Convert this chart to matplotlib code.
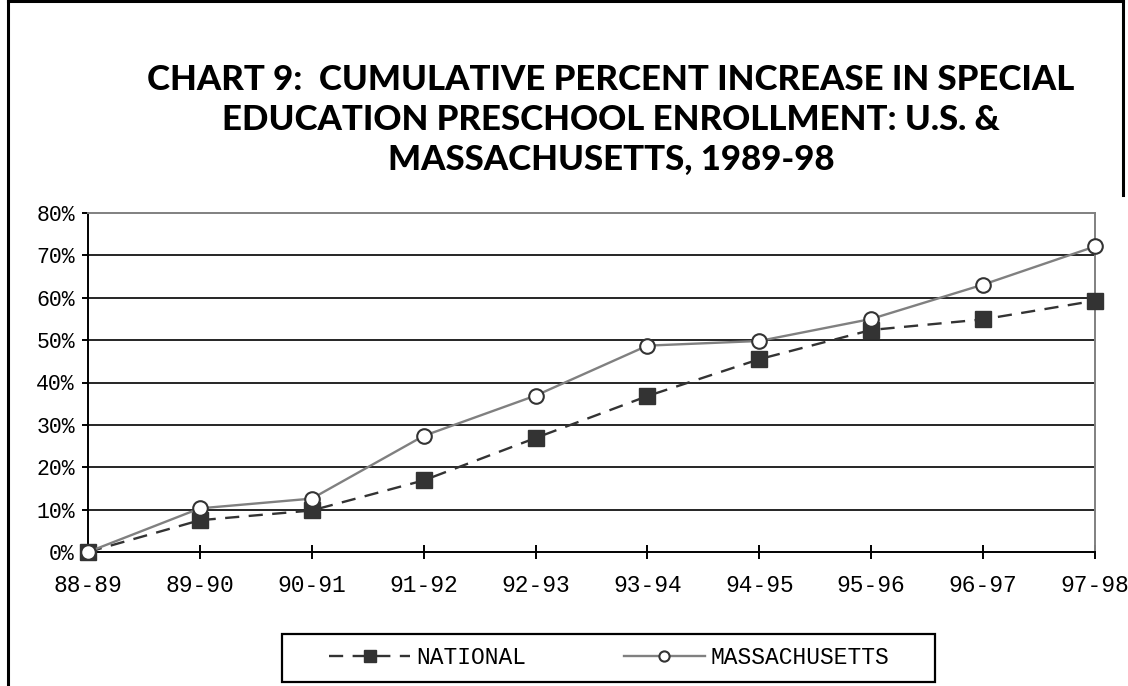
import matplotlib
matplotlib.use("Agg")
import matplotlib.pyplot as plt
from matplotlib.lines import Line2D
from matplotlib.patches import Rectangle

# ---- data -------------------------------------------------------------
years = ['88-89', '89-90', '90-91', '91-92', '92-93',
         '93-94', '94-95', '95-96', '96-97', '97-98']
national = [0.0, 7.5, 9.8, 16.9, 26.9, 36.8, 45.5, 52.4, 54.9, 59.3]
massachusetts = [0.0, 10.3, 12.6, 27.4, 36.9, 48.7, 49.8, 55.0, 63.1, 72.1]
y_ticks = [0, 10, 20, 30, 40, 50, 60, 70, 80]
series_names = ['NATIONAL', 'MASSACHUSETTS']
title = ('CHART 9:  CUMULATIVE PERCENT INCREASE IN SPECIAL\n'
         'EDUCATION PRESCHOOL ENROLLMENT: U.S. &\n'
         'MASSACHUSETTS, 1989-98')

W, H = 1128, 686
mono = 'Liberation Mono'
label_size = 16.5

fig = plt.figure(figsize=(W / 100, H / 100), dpi=100)
fig.patch.set_facecolor('white')

ax = fig.add_axes([88 / W, (H - 552) / H, (1095 - 88) / W, (552 - 213) / H])
ax.set_xlim(0, len(years) - 1)
ax.set_ylim(y_ticks[0], y_ticks[-1])

# horizontal rules between the bottom and top frame lines
for v in y_ticks[1:-1]:
    ax.axhline(v, color='black', lw=1.2, zorder=1)

x = list(range(len(years)))
ax.plot(x, national, color='#333333', lw=1.7, ls=(0, (6, 4)),
        marker='s', ms=11.5, mfc='#333333', mec='#333333',
        clip_on=False, zorder=3, label=series_names[0])
ax.plot(x, massachusetts, color='#808080', lw=1.7, ls='-',
        marker='o', ms=10.5, mfc='white', mec='#333333', mew=1.5,
        clip_on=False, zorder=4, label=series_names[1])

# frame
for side in ('left', 'bottom'):
    ax.spines[side].set_color('black')
    ax.spines[side].set_linewidth(1.4)
for side in ('top', 'right'):
    ax.spines[side].set_color('#808080')
    ax.spines[side].set_linewidth(1.4)

ax.set_xticks(x)
ax.set_xticklabels(years, fontfamily=mono, fontsize=label_size)
ax.set_yticks(y_ticks)
ax.set_yticklabels([f'{v}%' for v in y_ticks], fontfamily=mono,
                   fontsize=label_size - 1)
ax.tick_params(axis='x', direction='inout', length=9.5, width=1.4,
               pad=11, colors='black')
ax.tick_params(axis='y', direction='out', length=4.5, width=1.4,
               pad=5, colors='black')

# title
fig.text(611 / W, 1 - 120 / H, title, ha='center', va='center',
         multialignment='center', fontsize=25, fontweight='black',
         fontfamily=['Lato', 'DejaVu Sans'], linespacing=1.31)

# legend (entries only; the box is drawn separately below)
leg = fig.legend(loc='center', bbox_to_anchor=(609.5 / W, 1 - 658 / H),
                 ncol=2, frameon=False,
                 prop={'family': mono, 'size': label_size},
                 handlelength=3.5, handletextpad=0.27, columnspacing=4.3,
                 numpoints=1, borderpad=0.0, markerscale=0.7)
fig.add_artist(Rectangle((282 / W, 1 - 682 / H), (935 - 282) / W, 48 / H,
                         transform=fig.transFigure, fill=False,
                         edgecolor='black', lw=1.6, zorder=0))

# outer page frame
fig.add_artist(Line2D([7.5 / W, 7.5 / W], [0, 1 - 1 / H],
                      transform=fig.transFigure, color='black', lw=2.2))
fig.add_artist(Line2D([7.5 / W, 1123 / W], [1 - 1 / H, 1 - 1 / H],
                      transform=fig.transFigure, color='black', lw=2.2))
fig.add_artist(Line2D([1123 / W, 1123 / W], [1 - 1 / H, 1 - 195 / H],
                      transform=fig.transFigure, color='black', lw=2.2))

fig.savefig('out.png', dpi=100, facecolor='white')
